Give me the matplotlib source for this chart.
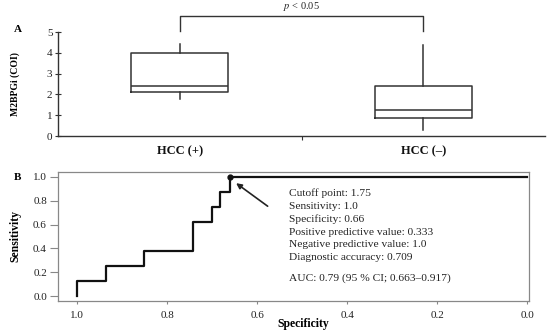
import matplotlib
matplotlib.use("Agg")
import matplotlib.pyplot as plt

plt.rcParams['font.family'] = ['Liberation Serif', 'DejaVu Serif']
plt.rcParams['mathtext.fontset'] = 'stix'

# ---- Panel A data (box plot summary) ----
groups = ["HCC (+)", "HCC (\u2013)"]
whislo = [1.78, 0.30]
q1 = [2.12, 0.85]
med = [2.42, 1.25]
q3 = [3.98, 2.38]
whishi = [4.42, 4.37]
a_yticks = [0, 1, 2, 3, 4, 5]

# ---- Panel B data (ROC curve, step points) ----
specificity = [1.0, 1.0, 0.937, 0.852, 0.744, 0.701, 0.683, 0.661, 0.0]
sensitivity = [0.0, 0.125, 0.25, 0.375, 0.625, 0.75, 0.875, 1.0, 1.0]
cutoff_spec = 0.661
cutoff_sens = 1.0
b_xticks = [1.0, 0.8, 0.6, 0.4, 0.2, 0.0]
b_yticks = [0.0, 0.2, 0.4, 0.6, 0.8, 1.0]
info_lines = ["Cutoff point: 1.75", "Sensitivity: 1.0", "Specificity: 0.66",
              "Positive predictive value: 0.333", "Negative predictive value: 1.0",
              "Diagnostic accuracy: 0.709"]
auc_text = "AUC: 0.79 (95 % CI; 0.663\u20130.917)"

W, H = 550, 334
fig = plt.figure(figsize=(W / 100, H / 100), dpi=100)
dark = '#333333'
txt = '#222222'

# ---------------- Panel A ----------------
axA = fig.add_axes([58 / W, 1 - 136 / H, (545 - 58) / W, (136 - 32) / H])
stats = []
for i, g in enumerate(groups):
    stats.append(dict(label=g, whislo=whislo[i], q1=q1[i], med=med[i],
                      q3=q3[i], whishi=whishi[i], fliers=[]))
lp = dict(color=dark, linewidth=1.1)
axA.bxp(stats, positions=[0.5, 1.5], widths=0.4, showfliers=False,
        boxprops=lp, medianprops=lp, whiskerprops=lp, capprops=lp,
        capwidths=0.0)
axA.set_xlim(0, 2)
axA.set_ylim(0, 5)
axA.spines['top'].set_visible(False)
axA.spines['right'].set_visible(False)
for s in ['left', 'bottom']:
    axA.spines[s].set_color(dark)
    axA.spines[s].set_linewidth(1.0)
axA.set_yticks(a_yticks)
axA.tick_params(axis='y', direction='inout', length=4, width=0.8, colors=dark,
                labelsize=8, pad=2, labelcolor=txt)
axA.set_xticks([0.5, 1.5])
axA.set_xticklabels(groups, fontsize=9, fontweight='bold')
axA.tick_params(axis='x', length=0, pad=7, labelcolor='#111111')
axA.set_xticks([1.0], minor=True)
axA.tick_params(axis='x', which='minor', length=3, width=0.8, colors=dark)
axA.set_ylabel("M2BPGi (COI)", fontsize=7, fontweight='bold')
axA.yaxis.set_label_coords((20 - 58) / (545 - 58), 0.5)
# significance bracket
axA.plot([0.5, 0.5, 1.5, 1.5], [5.05, 5.78, 5.78, 5.05], color=dark,
         linewidth=1.0, clip_on=False)
axA.text(1.0, 5.9, "$p$ < 0.05", ha='center', va='bottom', fontsize=7.5,
         color=txt)
fig.text(18 / W, 1 - 30 / H, "A", fontsize=8, fontweight='bold',
         ha='center', va='center')

# ---------------- Panel B ----------------
bl, br, bt, bb = 58, 529, 172, 301
axB = fig.add_axes([bl / W, 1 - bb / H, (br - bl) / W, (bb - bt) / H])
axB.plot(specificity, sensitivity, drawstyle='steps-post', color='#111111',
         linewidth=1.6)
axB.plot([cutoff_spec], [cutoff_sens], 'o', color='#111111', markersize=3.5)
axB.set_xlim(1.043, -0.004)
axB.set_ylim(-0.04, 1.04)
axB.set_xticks(b_xticks)
axB.set_xticklabels([f"{v:.1f}" for v in b_xticks])
axB.set_yticks(b_yticks)
axB.set_yticklabels([f"{v:.1f}" for v in b_yticks])
for s in axB.spines.values():
    s.set_color('#888888')
    s.set_linewidth(0.9)
axB.tick_params(axis='both', direction='out', width=0.8,
                colors='#888888', labelcolor=txt, labelsize=8)
axB.tick_params(axis='x', length=2, pad=5)
axB.tick_params(axis='y', length=6, pad=2)
axB.set_ylabel("Sensitivity", fontsize=8.5, fontweight='bold')
axB.yaxis.set_label_coords((21 - bl) / (br - bl), 0.5)
axB.set_xlabel("Specificity", fontsize=8.5, fontweight='bold')
axB.xaxis.set_label_coords((303 - bl) / (br - bl), (bb - 324) / (bb - bt))
axB.xaxis.label.set_va('center')
axB.annotate("", xy=(0.652, 0.96), xytext=(0.572, 0.74),
             arrowprops=dict(arrowstyle='-|>', color=txt, lw=1.2,
                             mutation_scale=8))


def py2sens(py):
    return 1.04 - (py - bt) / (bb - bt) * 1.08


x_text = 0.530
for i, line in enumerate(info_lines):
    axB.text(x_text, py2sens(193.3 + 12.9 * i), line, ha='left', va='center',
             fontsize=8.2, color=txt)
axB.text(x_text, py2sens(278.3), auc_text, ha='left', va='center',
         fontsize=8.2, color=txt)
fig.text(18 / W, 1 - 177 / H, "B", fontsize=8, fontweight='bold',
         ha='center', va='center')

fig.savefig("out.png", dpi=100)
